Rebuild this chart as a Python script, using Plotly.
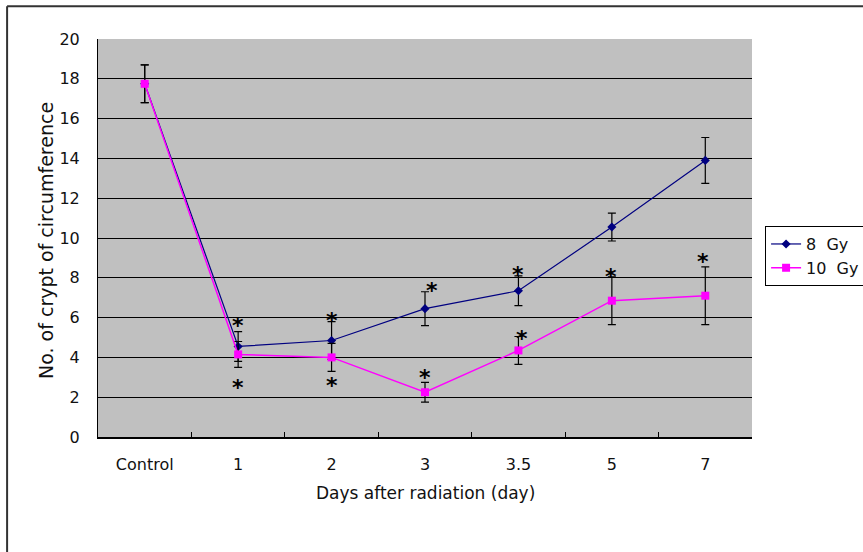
import plotly.graph_objects as go

categories = ["Control", "1", "2", "3", "3.5", "5", "7"]

gy8_values = [17.75, 4.55, 4.85, 6.45, 7.35, 10.55, 13.9]
gy8_errors = [0.95, 0.75, 0.95, 0.85, 0.75, 0.7, 1.15]

gy10_values = [17.75, 4.15, 4.0, 2.25, 4.35, 6.85, 7.1]
gy10_errors = [0.95, 0.65, 0.7, 0.5, 0.7, 1.2, 1.45]

# significance asterisks: (category index, y value)
star_x = [1.0, 1.0, 2.0, 2.0, 3.07, 3.0, 4.0, 4.04, 4.99, 5.98]
star_y = [5.9, 2.8, 6.15, 2.87, 7.66, 3.27, 8.46, 5.24, 8.36, 9.12]

y_ticks = list(range(0, 21, 2))

FONT = "DejaVu Sans"

fig = go.Figure()

fig.add_trace(go.Scatter(
    x=categories, y=gy8_values, name="8  Gy", mode="lines+markers",
    line=dict(color="#000080", width=1.2),
    marker=dict(symbol="diamond", size=7, color="#000080"),
    error_y=dict(type="data", array=gy8_errors, visible=True,
                 color="black", thickness=1.2, width=4),
))
fig.add_trace(go.Scatter(
    x=categories, y=gy10_values, name="10  Gy", mode="lines+markers",
    line=dict(color="#FF00FF", width=1.5),
    marker=dict(symbol="square", size=8, color="#FF00FF"),
    error_y=dict(type="data", array=gy10_errors, visible=True,
                 color="black", thickness=1.2, width=4),
))

for sx, sy in zip(star_x, star_y):
    fig.add_annotation(x=sx, y=sy, xref="x", yref="y", text="<b>*</b>",
                       showarrow=False, yanchor="middle",
                       font=dict(family=FONT, size=22, color="black"),
                       yshift=-6)

# axis titles
fig.add_annotation(text="No. of crypt of circumference", xref="paper", yref="paper",
                   x=-0.0994, y=0.495, textangle=-90, showarrow=False,
                   font=dict(family=FONT, size=19, color="#111"))
fig.add_annotation(text="Days after radiation (day)", xref="paper", yref="paper",
                   x=0.5, y=-0.171, showarrow=False,
                   font=dict(family=FONT, size=17, color="#111"))

# outer chart border (left and top edges visible in the frame)
fig.add_shape(type="line", xref="paper", yref="paper",
              x0=-0.139, y0=-0.33, x1=-0.139, y1=1.082,
              line=dict(color="#333", width=2), layer="above")
fig.add_shape(type="line", xref="paper", yref="paper",
              x0=-0.139, y0=1.082, x1=1.25, y1=1.082,
              line=dict(color="#333", width=2), layer="above")

fig.update_layout(
    width=863, height=552,
    margin=dict(l=98, r=111, t=39, b=115, autoexpand=False),
    paper_bgcolor="white", plot_bgcolor="#C0C0C0",
    font=dict(family=FONT, size=16, color="#111"),
    showlegend=True,
    legend=dict(x=1.02, y=0.53, xanchor="left", yanchor="top",
                bgcolor="white", bordercolor="black", borderwidth=1,
                font=dict(family=FONT, size=16, color="#111"),
                itemwidth=30, tracegroupgap=0),
    xaxis=dict(type="category", categoryarray=categories, range=[-0.5, 6.5],
               showgrid=False, showline=True, linecolor="black", linewidth=1.5,
               ticks="inside", ticklen=5, tickcolor="black", tickson="boundaries",
               ticklabelstandoff=12, zeroline=False),
    yaxis=dict(range=[0, 20], tickvals=y_ticks, showgrid=True, gridcolor="black",
               gridwidth=1, showline=True, linecolor="black", linewidth=1,
               ticks="", ticklabelstandoff=14, zeroline=False),
)

fig.write_html("out.html", config={"displayModeBar": False})
